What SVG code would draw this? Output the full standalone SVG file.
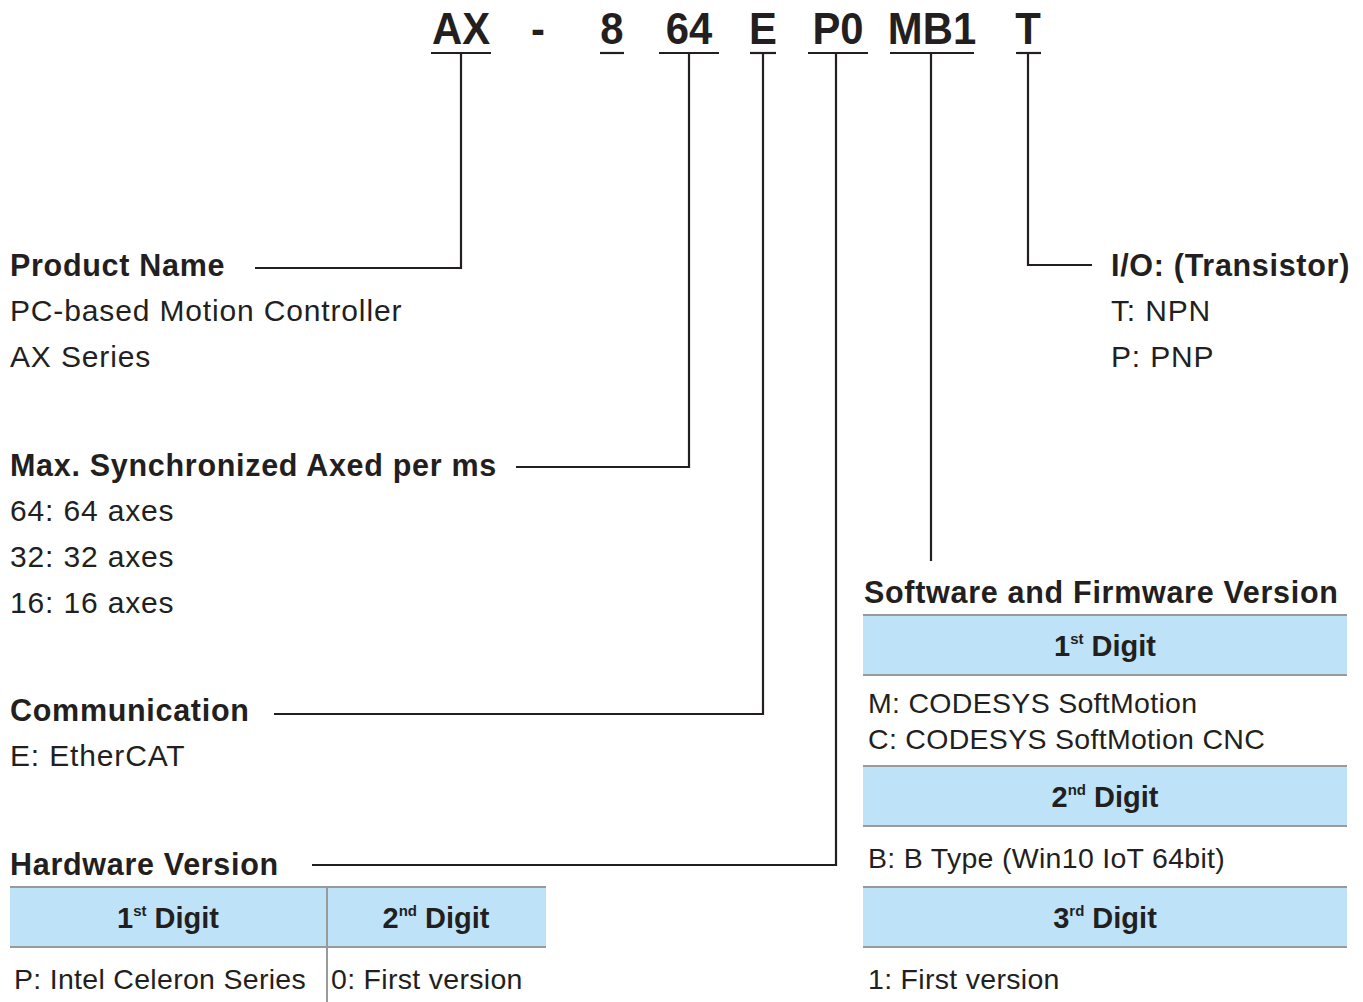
<svg xmlns="http://www.w3.org/2000/svg" width="1363" height="1002" viewBox="0 0 1363 1002">
<style>
text{font-family:"Liberation Sans",Arial,sans-serif;fill:#231F20}
.code{font-size:45px;font-weight:bold;text-anchor:middle}
.h{font-size:30.5px;font-weight:bold;letter-spacing:0.7px}
.b{font-size:30px;letter-spacing:0.85px}
.s{font-size:28.5px;letter-spacing:0.3px}
.th{font-size:29px;font-weight:bold;text-anchor:middle}
.sup{font-size:15px;font-weight:bold}
.ul{stroke:#231F20;stroke-width:2.2}
.con{fill:none;stroke:#231F20;stroke-width:2.2}
.hdr{fill:#BEE3F8}
.tl{stroke:#9A9A9A;stroke-width:2}
</style>
<rect width="1363" height="1002" fill="#fff"/>
<g id="code">
<text class="code" transform="translate(461,44) scale(0.93,1)">AX</text>
<text class="code" transform="translate(538,44) scale(0.93,1)">-</text>
<text class="code" transform="translate(612,44) scale(0.93,1)">8</text>
<text class="code" transform="translate(689,44) scale(0.93,1)">64</text>
<text class="code" transform="translate(763,44) scale(0.93,1)">E</text>
<text class="code" transform="translate(838,44) scale(0.93,1)">P0</text>
<text class="code" transform="translate(932,44) scale(0.93,1)">MB1</text>
<text class="code" transform="translate(1028,44) scale(0.93,1)">T</text>
<line class="ul" x1="431" y1="53" x2="491" y2="53"/>
<line class="ul" x1="600" y1="53" x2="624" y2="53"/>
<line class="ul" x1="659" y1="53" x2="719" y2="53"/>
<line class="ul" x1="750" y1="53" x2="776" y2="53"/>
<line class="ul" x1="808" y1="53" x2="868" y2="53"/>
<line class="ul" x1="890" y1="53" x2="974" y2="53"/>
<line class="ul" x1="1016" y1="53" x2="1041" y2="53"/>
</g>
<g id="connectors">
<polyline class="con" points="461,53 461,268 255,268"/>
<polyline class="con" points="689,53 689,467 516,467"/>
<polyline class="con" points="763,53 763,714 274,714"/>
<polyline class="con" points="836,53 836,865 312,865"/>
<polyline class="con" points="931,53 931,561"/>
<polyline class="con" points="1028,53 1028,265 1092,265"/>
</g>
<g id="product-name">
<text class="h" x="10" y="276">Product Name</text>
<text class="b" x="10" y="321">PC-based Motion Controller</text>
<text class="b" x="10" y="367">AX Series</text>
</g>
<g id="axes">
<text class="h" x="10" y="476">Max. Synchronized Axed per ms</text>
<text class="b" x="10" y="521">64: 64 axes</text>
<text class="b" x="10" y="567">32: 32 axes</text>
<text class="b" x="10" y="613">16: 16 axes</text>
</g>
<g id="communication">
<text class="h" x="10" y="721">Communication</text>
<text class="b" x="10" y="766">E: EtherCAT</text>
</g>
<g id="io">
<text class="h" x="1111" y="276">I/O: (Transistor)</text>
<text class="b" x="1111" y="321">T: NPN</text>
<text class="b" x="1111" y="367">P: PNP</text>
</g>
<g id="hardware-version">
<text class="h" x="10" y="875">Hardware Version</text>
<rect class="hdr" x="10" y="887" width="536" height="60"/>
<line class="tl" x1="10" y1="887" x2="546" y2="887"/>
<line class="tl" x1="10" y1="947" x2="546" y2="947"/>
<line class="tl" x1="327" y1="887" x2="327" y2="1002"/>
<text class="th" x="168" y="928">1<tspan class="sup" dy="-12">st</tspan><tspan dy="12"> Digit</tspan></text>
<text class="th" x="436" y="928">2<tspan class="sup" dy="-12">nd</tspan><tspan dy="12"> Digit</tspan></text>
<text class="s" x="14" y="989">P: Intel Celeron Series</text>
<text class="s" x="331" y="989">0: First version</text>
</g>
<g id="software-version">
<text class="h" x="864" y="603">Software and Firmware Version</text>
<rect class="hdr" x="863" y="615" width="484" height="60"/>
<rect class="hdr" x="863" y="766" width="484" height="60"/>
<rect class="hdr" x="863" y="887" width="484" height="60"/>
<line class="tl" x1="863" y1="615" x2="1347" y2="615"/>
<line class="tl" x1="863" y1="675" x2="1347" y2="675"/>
<line class="tl" x1="863" y1="766" x2="1347" y2="766"/>
<line class="tl" x1="863" y1="826" x2="1347" y2="826"/>
<line class="tl" x1="863" y1="887" x2="1347" y2="887"/>
<line class="tl" x1="863" y1="947" x2="1347" y2="947"/>
<text class="th" x="1105" y="656">1<tspan class="sup" dy="-12">st</tspan><tspan dy="12"> Digit</tspan></text>
<text class="s" x="868" y="713">M: CODESYS SoftMotion</text>
<text class="s" x="868" y="749">C: CODESYS SoftMotion CNC</text>
<text class="th" x="1105" y="807">2<tspan class="sup" dy="-12">nd</tspan><tspan dy="12"> Digit</tspan></text>
<text class="s" x="868" y="868">B: B Type (Win10 IoT 64bit)</text>
<text class="th" x="1105" y="928">3<tspan class="sup" dy="-12">rd</tspan><tspan dy="12"> Digit</tspan></text>
<text class="s" x="868" y="989">1: First version</text>
</g>
</svg>
